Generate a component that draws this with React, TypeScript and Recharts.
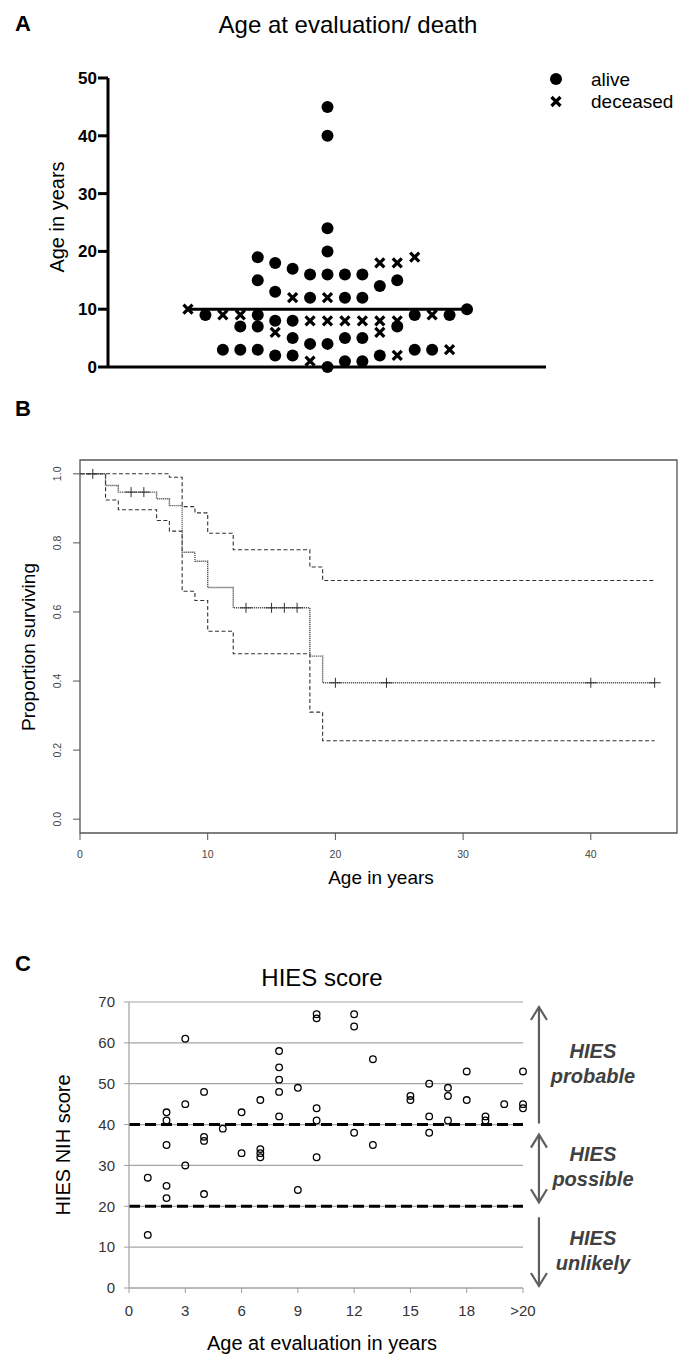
import React from "react";
import {
  ScatterChart,
  ComposedChart,
  Scatter,
  Line,
  XAxis,
  YAxis,
  CartesianGrid,
  ReferenceLine,
  ReferenceArea,
  Legend,
} from "recharts";

const FONT = '"Liberation Sans", Arial, Helvetica, sans-serif';

// ---- A: age at evaluation / death (beeswarm slot + age)
const aliveSlots = [1, 2, 3, 3, 4, 4, 4, 4, 4, 5, 5, 5, 5, 6, 6, 6, 6, 7, 7, 7, 8, 8, 8, 8, 8, 8, 8, 9, 9, 9, 9, 10, 10, 10, 10, 11, 11, 12, 12, 13, 13, 14, 15, 16];
const aliveAges = [9, 3, 7, 3, 19, 15, 9, 7, 3, 18, 13, 8, 2, 17, 8, 5, 2, 16, 12, 4, 45, 40, 24, 20, 16, 4, 0, 16, 12, 5, 1, 16, 12, 5, 1, 14, 2, 15, 7, 9, 3, 3, 9, 10];
const deceasedSlots = [0, 2, 3, 5, 6, 7, 7, 8, 8, 9, 10, 11, 11, 11, 12, 12, 12, 13, 14, 15];
const deceasedAges = [10, 9, 9, 6, 12, 8, 1, 12, 8, 8, 8, 18, 8, 6, 18, 8, 2, 19, 9, 3];
const medianAge = 10;
const medianSpan = [0, 16];
const ageTicks = [0, 10, 20, 30, 40, 50];

// ---- B: Kaplan-Meier survival with 95% CI
const kmTimes = [0, 2, 3, 6, 7, 8, 9, 10, 12, 18, 19, 45];
const kmSurv = [1, 0.966, 0.947, 0.928, 0.908, 0.773, 0.747, 0.671, 0.612, 0.472, 0.395, 0.395];
const kmUpper = [1, 1, 1, 1, 0.99, 0.905, 0.887, 0.828, 0.78, 0.73, 0.691, 0.691];
const kmLower = [1, 0.924, 0.896, 0.865, 0.834, 0.66, 0.633, 0.544, 0.479, 0.31, 0.227, 0.227];
const censorTimes = [1, 4, 5, 13, 15, 16, 17, 20, 24, 40, 45];
const censorSurv = [1, 0.947, 0.947, 0.612, 0.612, 0.612, 0.612, 0.395, 0.395, 0.395, 0.395];
const kmXTicks = [0, 10, 20, 30, 40];
const kmYTicks = [0, 0.2, 0.4, 0.6, 0.8, 1];

// ---- C: HIES NIH score by age at evaluation (21 = ">20")
const evalAge = [1, 1, 2, 2, 2, 2, 2, 3, 3, 3, 4, 4, 4, 4, 5, 6, 6, 7, 7, 7, 7, 8, 8, 8, 8, 8, 9, 9, 10, 10, 10, 10, 10, 12, 12, 12, 13, 13, 15, 15, 16, 16, 16, 17, 17, 17, 18, 18, 19, 19, 20, 21, 21, 21];
const nihScore = [27, 13, 43, 41, 35, 25, 22, 61, 45, 30, 48, 37, 36, 23, 39, 43, 33, 46, 34, 33, 32, 58, 54, 51, 48, 42, 49, 24, 67, 66, 44, 41, 32, 67, 64, 38, 56, 35, 47, 46, 50, 42, 38, 49, 47, 41, 53, 46, 42, 41, 45, 53, 45, 44];
const hiesThresholds = [40, 20];
const hiesBands = [
  { from: 40, to: 70, words: ["HIES", "probable"], up: true, down: false },
  { from: 20, to: 40, words: ["HIES", "possible"], up: true, down: true },
  { from: 0, to: 20, words: ["HIES", "unlikely"], up: false, down: true },
];
const scoreTicks = [0, 10, 20, 30, 40, 50, 60, 70];
const evalTicks = [0, 3, 6, 9, 12, 15, 18, 21];

const aliveData = aliveSlots.map((s, i) => ({ slot: s, age: aliveAges[i] }));
const deceasedData = deceasedSlots.map((s, i) => ({ slot: s, age: deceasedAges[i] }));
const kmData = kmTimes.map((t, i) => ({ t, surv: kmSurv[i], upper: kmUpper[i], lower: kmLower[i] }));
const censorData = censorTimes.map((t, i) => ({ t, surv: censorSurv[i] }));
const hiesData = evalAge.map((a, i) => ({ age: a, score: nihScore[i] }));

// arrow insets in px (top, bottom) for the band arrows
const arrowInsets = [
  [5, 1],
  [10, 4],
  [11, 2],
];

const Dot = (p: any) => <circle cx={p.cx} cy={p.cy} r={6} fill="#000" />;
const Cross = (p: any) => (
  <path
    d={`M${p.cx - 4.5},${p.cy - 4.5}L${p.cx + 4.5},${p.cy + 4.5}M${p.cx + 4.5},${p.cy - 4.5}L${p.cx - 4.5},${p.cy + 4.5}`}
    stroke="#000"
    strokeWidth={3.2}
  />
);
const Plus = (p: any) => (
  <path d={`M${p.cx - 6},${p.cy}H${p.cx + 6}M${p.cx},${p.cy - 5}V${p.cy + 5}`} stroke="#333" strokeWidth={1} />
);
const Ring = (p: any) => <circle cx={p.cx} cy={p.cy} r={3.3} fill="none" stroke="#000" strokeWidth={1.3} />;

const RotTick = (p: any) => (
  <text
    x={p.x}
    y={p.y}
    transform={`rotate(-90 ${p.x} ${p.y})`}
    textAnchor="middle"
    fontSize={10.5}
    fill="#444"
    fontFamily={FONT}
  >
    {Number(p.payload.value).toFixed(1)}
  </text>
);

const legendContent = (props: any) => (
  <svg width={146} height={48}>
    {(props.payload || []).map((e: any, i: number) => {
      const cy = 11 + i * 22.5;
      return (
        <g key={e.value}>
          {e.value === "alive" ? <Dot cx={8} cy={cy} /> : <Cross cx={8} cy={cy} />}
          <text x={43} y={cy + 6.5} fontSize={19} fontFamily={FONT} fill="#000">
            {e.value}
          </text>
        </g>
      );
    })}
  </svg>
);

const makeBandArrow = (idx: number) => (p: any) => {
  const b = hiesBands[idx];
  const x = p.x1;
  const yTop = Math.min(p.y1, p.y2) + arrowInsets[idx][0];
  const yBot = Math.max(p.y1, p.y2) - arrowInsets[idx][1];
  const mid = (yTop + yBot) / 2;
  const c = "#5f5f5f";
  return (
    <g>
      <line x1={x} y1={yTop} x2={x} y2={yBot} stroke={c} strokeWidth={2.2} />
      {b.up && <path d={`M${x - 8},${yTop + 13}L${x},${yTop}L${x + 8},${yTop + 13}`} fill="none" stroke={c} strokeWidth={2.2} />}
      {b.down && <path d={`M${x - 8},${yBot - 13}L${x},${yBot}L${x + 8},${yBot - 13}`} fill="none" stroke={c} strokeWidth={2.2} />}
      <text x={x + 54} y={mid - 7} textAnchor="middle" fontSize={20} fontWeight="bold" fontStyle="italic" fill="#404040" fontFamily={FONT}>
        {b.words[0]}
      </text>
      <text x={x + 54} y={mid + 18} textAnchor="middle" fontSize={20} fontWeight="bold" fontStyle="italic" fill="#404040" fontFamily={FONT}>
        {b.words[1]}
      </text>
    </g>
  );
};

export default function App() {
  const t = { fontFamily: FONT, fill: "#000" };
  return (
    <div style={{ position: "absolute", left: 0, top: 0, width: 694, height: 1357, background: "#fff", fontFamily: FONT }}>
      {/* A */}
      <div style={{ position: "absolute", left: 0, top: 0 }}>
        <ScatterChart width={694} height={380} margin={{ top: 78, right: 148, left: 0, bottom: 3 }}>
          <XAxis
            type="number"
            dataKey="slot"
            domain={[-4.587, 20.53]}
            allowDataOverflow
            tick={false}
            tickLine={false}
            height={10}
            axisLine={{ stroke: "#000", strokeWidth: 3 }}
          />
          <YAxis
            type="number"
            dataKey="age"
            domain={[0, 50]}
            ticks={ageTicks}
            interval={0}
            width={108}
            tickSize={10}
            tickMargin={1}
            axisLine={{ stroke: "#000", strokeWidth: 3 }}
            tickLine={{ stroke: "#000", strokeWidth: 3 }}
            tick={{ fontSize: 17, fontWeight: 700, fill: "#000", fontFamily: FONT }}
          />
          <ReferenceLine
            segment={[
              { x: medianSpan[0], y: medianAge },
              { x: medianSpan[1], y: medianAge },
            ]}
            stroke="#000"
            strokeWidth={3}
          />
          <Scatter name="alive" data={aliveData} shape={Dot} isAnimationActive={false} />
          <Scatter name="deceased" data={deceasedData} shape={Cross} isAnimationActive={false} />
          <Legend
            layout="horizontal"
            verticalAlign="middle"
            align="center"
            wrapperStyle={{ left: 548, top: 68, width: 146, height: 48 }}
            content={legendContent}
          />
        </ScatterChart>
      </div>

      {/* B */}
      <div style={{ position: "absolute", left: 0, top: 400 }}>
        <ComposedChart width={694} height={500} data={kmData} margin={{ top: 60, right: 17, left: 0, bottom: 0 }}>
          <XAxis
            type="number"
            dataKey="t"
            domain={[0, 46.75]}
            allowDataOverflow
            ticks={kmXTicks}
            interval={0}
            height={67}
            axisLine={false}
            tickSize={7}
            tickMargin={11}
            tickLine={{ stroke: "#555" }}
            tick={{ fontSize: 10.5, fill: "#444", fontFamily: FONT }}
          />
          <YAxis
            type="number"
            domain={[-0.04, 1.04]}
            allowDataOverflow
            ticks={kmYTicks}
            interval={0}
            width={80}
            axisLine={false}
            tickSize={7}
            tickMargin={12}
            tickLine={{ stroke: "#555" }}
            tick={<RotTick />}
          />
          <ReferenceArea x1={0} x2={46.75} y1={-0.04} y2={1.04} fill="none" stroke="#555" strokeWidth={1.3} ifOverflow="visible" />
          <Line type="stepAfter" dataKey="upper" stroke="#333" strokeWidth={1.1} strokeDasharray="4 2.5" dot={false} isAnimationActive={false} />
          <Line type="stepAfter" dataKey="lower" stroke="#333" strokeWidth={1.1} strokeDasharray="4 2.5" dot={false} isAnimationActive={false} />
          <Line type="stepAfter" dataKey="surv" stroke="#555" strokeWidth={1.4} strokeDasharray="1.2 0.8" dot={false} isAnimationActive={false} />
          <Scatter data={censorData} dataKey="surv" shape={Plus} isAnimationActive={false} />
        </ComposedChart>
      </div>

      {/* C */}
      <div style={{ position: "absolute", left: 0, top: 940 }}>
        <ScatterChart width={694} height={417} margin={{ top: 62, right: 171, left: 0, bottom: 0 }}>
          <CartesianGrid vertical={false} stroke="#a6a6a6" strokeWidth={1.2} />
          <XAxis
            type="number"
            dataKey="age"
            domain={[0, 21]}
            ticks={evalTicks}
            interval={0}
            height={69}
            tickSize={5}
            tickMargin={12}
            axisLine={{ stroke: "#a0a0a0", strokeWidth: 1.2 }}
            tickLine={{ stroke: "#a0a0a0" }}
            tick={{ fontSize: 15, fill: "#333", fontFamily: FONT }}
            tickFormatter={(v: number) => (v === 21 ? ">20" : String(v))}
          />
          <YAxis
            type="number"
            dataKey="score"
            domain={[0, 70]}
            ticks={scoreTicks}
            interval={0}
            width={129}
            tickSize={5}
            tickMargin={9}
            axisLine={{ stroke: "#a0a0a0", strokeWidth: 1.2 }}
            tickLine={{ stroke: "#a0a0a0" }}
            tick={{ fontSize: 15, fill: "#333", fontFamily: FONT }}
          />
          {hiesThresholds.map((v) => (
            <ReferenceLine key={v} y={v} stroke="#000" strokeWidth={3} strokeDasharray="11 5" />
          ))}
          {hiesBands.map((b, i) => (
            <ReferenceLine
              key={b.words[1]}
              segment={[
                { x: 21.85, y: b.to },
                { x: 21.85, y: b.from },
              ]}
              ifOverflow="visible"
              shape={makeBandArrow(i)}
            />
          ))}
          <Scatter data={hiesData} shape={Ring} isAnimationActive={false} />
        </ScatterChart>
      </div>

      {/* titles & axis labels */}
      <svg width={694} height={1357} style={{ position: "absolute", left: 0, top: 0, pointerEvents: "none" }}>
        <text x={23} y={23} textAnchor="middle" dominantBaseline="central" fontSize={22} fontWeight="bold" {...t}>A</text>
        <text x={348} y={24} textAnchor="middle" dominantBaseline="central" fontSize={24} {...t}>Age at evaluation/ death</text>
        <text x={57} y={217} transform="rotate(-90 57 217)" textAnchor="middle" dominantBaseline="central" fontSize={20} {...t}>Age in years</text>

        <text x={23} y={408} textAnchor="middle" dominantBaseline="central" fontSize={22} fontWeight="bold" {...t}>B</text>
        <text x={28} y={647} transform="rotate(-90 28 647)" textAnchor="middle" dominantBaseline="central" fontSize={19} {...t}>Proportion surviving</text>
        <text x={381} y={877} textAnchor="middle" dominantBaseline="central" fontSize={19} {...t}>Age in years</text>

        <text x={23} y={963} textAnchor="middle" dominantBaseline="central" fontSize={22} fontWeight="bold" {...t}>C</text>
        <text x={322} y={977} textAnchor="middle" dominantBaseline="central" fontSize={24} {...t}>HIES score</text>
        <text x={63} y={1145} transform="rotate(-90 63 1145)" textAnchor="middle" dominantBaseline="central" fontSize={20} {...t}>HIES NIH score</text>
        <text x={322} y={1343} textAnchor="middle" dominantBaseline="central" fontSize={20} {...t}>Age at evaluation in years</text>
      </svg>
    </div>
  );
}
